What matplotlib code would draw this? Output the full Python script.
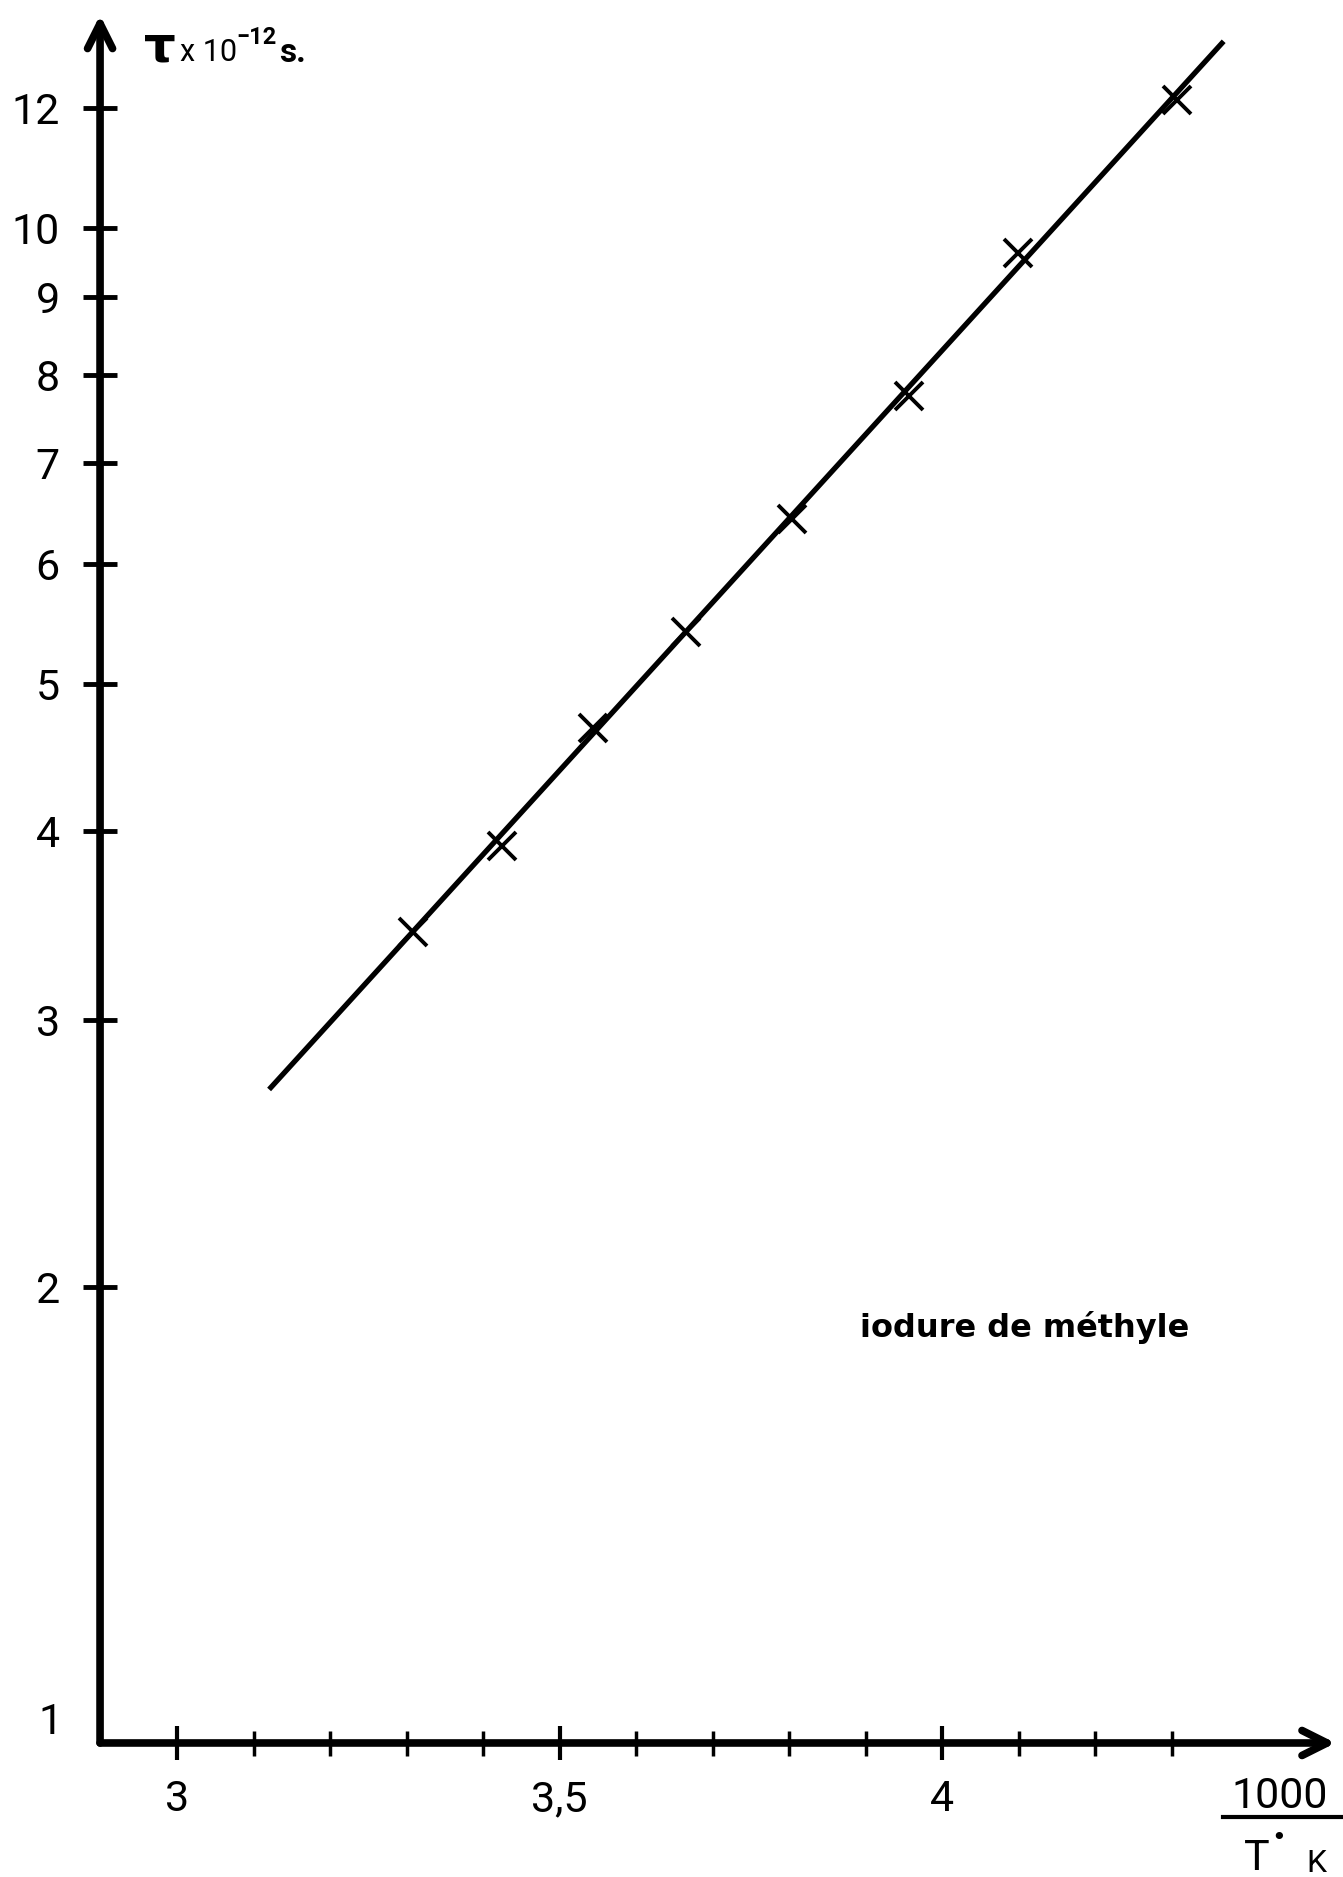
import numpy as np
import matplotlib
matplotlib.use('Agg')
import matplotlib.pyplot as plt
from matplotlib.lines import Line2D

# relaxation time of methyl iodide vs inverse temperature
inv_T = [3.308, 3.424, 3.543, 3.665, 3.803, 3.956, 4.099, 4.307]
tau = [3.43, 3.91, 4.68, 5.41, 6.43, 7.74, 9.63, 12.15]

# fitted straight line (end points)
fit_x = [3.12, 4.368]
fit_tau = [2.70, 13.28]

y_ticks = [2, 3, 4, 5, 6, 7, 8, 9, 10, 12]
x_major = [3.0, 3.5, 4.0]
x_major_labels = ['3', '3,5', '4']
x_minor = [3.1, 3.2, 3.3, 3.4, 3.6, 3.7, 3.8, 3.9, 4.1, 4.2, 4.3]

plt.rcParams['font.family'] = ['Roboto', 'DejaVu Sans']

fig = plt.figure(figsize=(13.43, 18.77), dpi=100)
ax = fig.add_axes([0.0745, 0.0714, 0.9255, 0.9286])

ax.set_yscale('log')
ax.set_xlim(2.899, 4.524)
ax.set_ylim(1, 14.14)

# measured points and the fit
ax.plot(fit_x, fit_tau, color='black', lw=3.8, solid_capstyle='butt')
ax.plot(inv_T, tau, linestyle='none', marker='x', color='black',
        markersize=20, markeredgewidth=2.8)

for s in ax.spines.values():
    s.set_visible(False)

# axes drawn as arrows
arrow = dict(arrowstyle='->', lw=5.5, color='black', mutation_scale=45,
             shrinkA=0, shrinkB=0)
ax.annotate('', xy=(0.994, 0), xytext=(0, 0), xycoords='axes fraction',
            arrowprops=arrow, annotation_clip=False)
ax.annotate('', xy=(0, 0.9914), xytext=(0, 0), xycoords='axes fraction',
            arrowprops=arrow, annotation_clip=False)

ax.set_yticks(y_ticks)
ax.set_yticklabels([str(v) for v in y_ticks])
ax.yaxis.set_minor_locator(matplotlib.ticker.NullLocator())
ax.tick_params(axis='y', which='major', direction='inout', length=24,
               width=3.5, pad=17, labelsize=31)

ax.set_xticks(x_major)
ax.set_xticklabels(x_major_labels)
ax.set_xticks(x_minor, minor=True)
ax.tick_params(axis='x', which='major', direction='inout', length=24,
               width=3, pad=14, labelsize=31)
ax.tick_params(axis='x', which='minor', direction='inout', length=18,
               width=2.5)

# label for tau = 1 sits at the corner
ax.annotate('1', xy=(0, 1), xycoords=('axes fraction', 'data'),
            xytext=(-50, 20), textcoords='offset pixels',
            ha='center', va='center', fontsize=31)

# y axis title
fig.text(0.107, 0.9745, 'τ', fontsize=36, fontweight='bold',
         family='DejaVu Sans', ha='left', va='center')
fig.text(0.134, 0.972, 'x 10', fontsize=22, ha='left', va='center')
fig.text(0.176, 0.980, '−12', fontsize=17, fontweight='bold',
         ha='left', va='center')
fig.text(0.208, 0.972, 's.', fontsize=24, fontweight='bold',
         ha='left', va='center')

# x axis title: 1000 / T K
fig.text(0.953, 0.043, '1000', fontsize=31, ha='center', va='center')
fig.add_artist(Line2D([0.911, 1.0], [0.032, 0.032], color='black', lw=3))
fig.text(0.936, 0.010, 'T', fontsize=31, ha='center', va='center')
fig.text(0.952, 0.021, '•', fontsize=18, ha='center', va='center',
         family=['DejaVu Sans'])
fig.text(0.980, 0.007, 'K', fontsize=23, ha='center', va='center')

ax.text(0.640, 0.2925, 'iodure de méthyle', transform=fig.transFigure,
        fontsize=23, ha='left', va='center', family='DejaVu Sans',
        fontweight='bold')

fig.savefig('out.png', dpi=100, facecolor='white')
